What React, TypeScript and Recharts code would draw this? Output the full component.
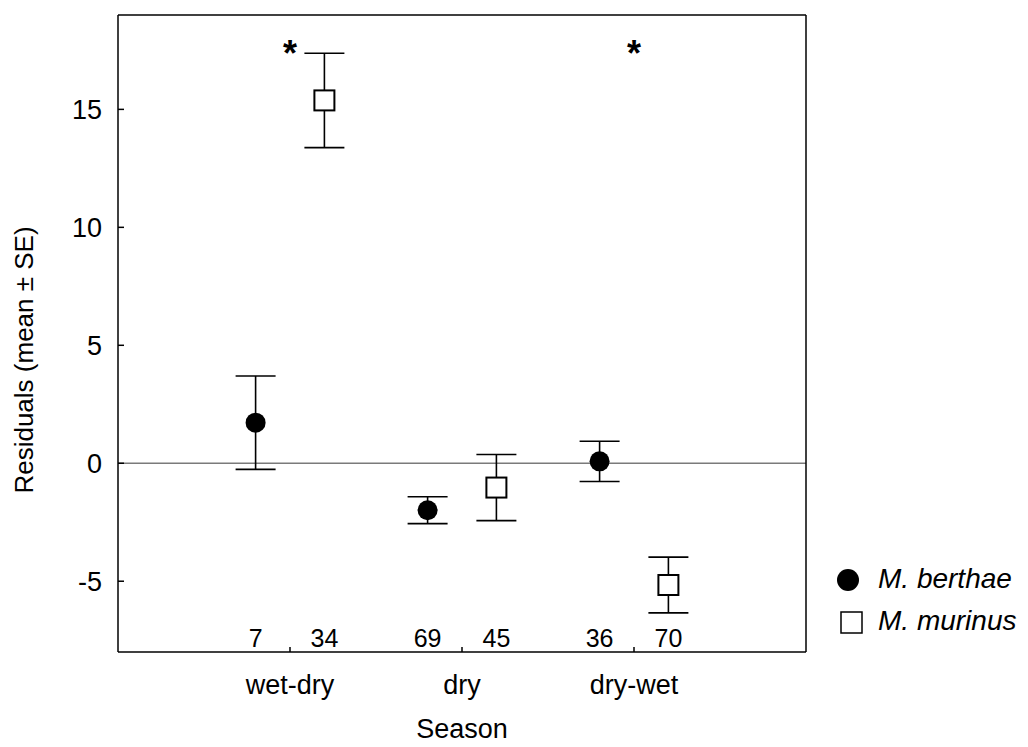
import React from 'react';
import { ComposedChart, Scatter, XAxis, YAxis, ErrorBar, ReferenceLine, Label } from 'recharts';

// seasons on the x axis, one group per season
const seasons = ['wet-dry', 'dry', 'dry-wet'];

// M. berthae: residual means and standard errors
const berthaeMean = [1.72, -1.99, 0.08];
const berthaeSE = [1.98, 0.57, 0.85];
const berthaeN = [7, 69, 36];

// M. murinus: residual means and standard errors
const murinusMean = [15.38, -1.03, -5.16];
const murinusSE = [2.0, 1.4, 1.18];
const murinusN = [34, 45, 70];

// significant species difference within a season
const significant = [true, false, true];

const yTicks = [-5, 0, 5, 10, 15];

const FONT = 'Arial, "Liberation Sans", Helvetica, sans-serif';
const OFFSET = 0.2;
const N_ROW = -7.4;
const STAR_ROW = 17.72;

const berthaeRows = seasons.map((s, i) => ({ x: i + 1 - OFFSET, y: berthaeMean[i], err: berthaeSE[i] }));
const murinusRows = seasons.map((s, i) => ({ x: i + 1 + OFFSET, y: murinusMean[i], err: murinusSE[i] }));
const nRows = seasons.flatMap((s, i) => [
  { x: i + 1 - OFFSET, y: N_ROW, n: berthaeN[i] },
  { x: i + 1 + OFFSET, y: N_ROW, n: murinusN[i] },
]);
const starRows = seasons.map((s, i) => ({ x: i + 1, y: STAR_ROW, sig: significant[i] })).filter(r => r.sig);

const Dot = (p: any) => <circle cx={p.cx} cy={p.cy} r={10} fill="#000" />;
const Box = (p: any) => (
  <rect x={p.cx - 10} y={p.cy - 10} width={20} height={20} fill="#fff" stroke="#000" strokeWidth={2} />
);
const Nothing = () => <g />;
const NText = (p: any) => (
  <text x={p.cx} y={p.cy} dy="0.35em" textAnchor="middle" fontSize={25} fontFamily={FONT} fill="#000">
    {p.payload.n}
  </text>
);
const Star = (p: any) => (
  <text x={p.cx} y={p.cy + 0.575 * 36} textAnchor="middle" fontSize={36} fontWeight="bold" fontFamily={FONT} fill="#000">
    *
  </text>
);

export default function App() {
  return (
    <div style={{ position: 'relative', width: 1020, height: 739, fontFamily: FONT }}>
      <ComposedChart width={1020} height={739} margin={{ top: 6, right: 221, bottom: 0, left: 0 }}>
        <XAxis
          xAxisId="b"
          type="number"
          dataKey="x"
          domain={[0, 4]}
          allowDataOverflow
          ticks={[1, 2, 3]}
          tickFormatter={v => seasons[v - 1]}
          height={95}
          tickSize={-5}
          tickMargin={28}
          stroke="#000"
          strokeWidth={1.5}
          tick={{ fill: '#000', fontSize: 27, fontFamily: FONT }}
        >
          <Label
            content={(props: any) => (
              <text
                x={props.viewBox.x + props.viewBox.width / 2}
                y={730}
                textAnchor="middle"
                fontSize={27}
                fontFamily={FONT}
                fill="#000"
              >
                Season
              </text>
            )}
          />
        </XAxis>
        <XAxis
          xAxisId="t"
          orientation="top"
          type="number"
          dataKey="x"
          domain={[0, 4]}
          allowDataOverflow
          ticks={[1, 2, 3]}
          height={1}
          tickSize={-5}
          tick={false}
          stroke="#000"
          strokeWidth={1.5}
        />
        <YAxis
          yAxisId="l"
          type="number"
          dataKey="y"
          domain={[-8, 19]}
          allowDataOverflow
          ticks={yTicks}
          width={110}
          tickSize={-6}
          tickMargin={22}
          stroke="#000"
          strokeWidth={1.5}
          tick={{ fill: '#000', fontSize: 27, fontFamily: FONT }}
        >
          <Label
            content={() => (
              <text
                x={25}
                y={352}
                transform="rotate(-90 25 352)"
                textAnchor="middle"
                fontSize={26}
                fontFamily={FONT}
                fill="#000"
              >
                Residuals (mean ± SE)
              </text>
            )}
          />
        </YAxis>
        <YAxis
          yAxisId="r"
          orientation="right"
          type="number"
          dataKey="y"
          domain={[-8, 19]}
          allowDataOverflow
          width={1}
          tick={false}
          tickLine={false}
          stroke="#000"
          strokeWidth={1.5}
        />
        <ReferenceLine xAxisId="b" yAxisId="l" y={0} stroke="#7a7a7a" strokeWidth={1.5} />

        <Scatter xAxisId="b" yAxisId="l" dataKey="y" data={berthaeRows} shape={Nothing} isAnimationActive={false}>
          <ErrorBar dataKey="err" direction="y" width={20} stroke="#000" strokeWidth={1.6} isAnimationActive={false} />
        </Scatter>
        <Scatter xAxisId="b" yAxisId="l" dataKey="y" data={murinusRows} shape={Nothing} isAnimationActive={false}>
          <ErrorBar dataKey="err" direction="y" width={20} stroke="#000" strokeWidth={1.6} isAnimationActive={false} />
        </Scatter>
        <Scatter xAxisId="b" yAxisId="l" dataKey="y" name="M. berthae" data={berthaeRows} shape={Dot} isAnimationActive={false} />
        <Scatter xAxisId="b" yAxisId="l" dataKey="y" name="M. murinus" data={murinusRows} shape={Box} isAnimationActive={false} />
        <Scatter xAxisId="b" yAxisId="l" dataKey="y" data={nRows} shape={NText} isAnimationActive={false} />
        <Scatter xAxisId="b" yAxisId="l" dataKey="y" data={starRows} shape={Star} isAnimationActive={false} />
        <Scatter xAxisId="t" yAxisId="r" dataKey="y" data={starRows} shape={Nothing} isAnimationActive={false} />
      </ComposedChart>

      <svg width={206} height={90} style={{ position: 'absolute', left: 822, top: 550 }}>
        <circle cx={18} cy={22} r={11} fill="#000" />
        <text x={48} y={30} fontSize={28} fontStyle="italic" fontFamily={FONT} fill="#000">
          M. berthae
        </text>
        <rect x={11} y={54} width={21} height={21} fill="#fff" stroke="#000" strokeWidth={1.5} />
        <text x={48} y={72} fontSize={28} fontStyle="italic" fontFamily={FONT} fill="#000">
          M. murinus
        </text>
      </svg>
    </div>
  );
}
